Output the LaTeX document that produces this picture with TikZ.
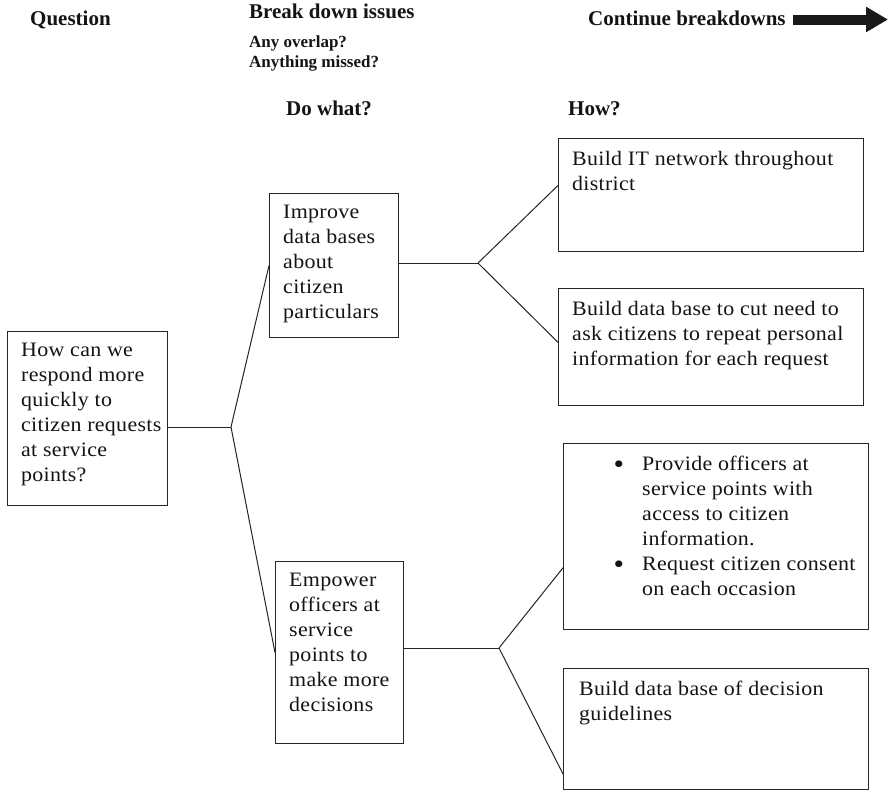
\documentclass[tikz,border=0pt]{standalone}
\usepackage{fontspec}
\setmainfont{Liberation Serif}
\newfontfamily\bodyfont{Liberation Serif}[FakeStretch=1.07,LetterSpace=1.5]
\usetikzlibrary{arrows.meta,calc}
\newcommand{\bigbullet}{\llap{\raisebox{-2.5pt}{\fontsize{28}{25}\selectfont\textbullet}\hspace{18pt}}}

\begin{document}
\begin{tikzpicture}[x=1pt,y=-1pt,
  box/.style={draw=black!85,line width=1.1pt,rectangle,inner sep=0pt,anchor=north west},
  body/.style={inner sep=0pt,anchor=north west,align=left,text=black!92,
    font=\bodyfont\fontsize{20.5}{25}\selectfont},
  head/.style={inner sep=0pt,anchor=base west,text=black!92,
    font=\bfseries\fontsize{21}{25}\selectfont},
  subhead/.style={inner sep=0pt,anchor=base west,text=black!92,
    font=\bfseries\fontsize{17}{20}\selectfont},
  link/.style={draw=black!85,line width=1pt}]

\fill[white] (0,0) rectangle (888,801);
\useasboundingbox (0,0) rectangle (888,801);

% column headings
\node[head] (hq) at (30,25) {Question};
\node[head] (hb) at (249,18) {Break down issues};
\node[subhead] (ho) at (249,47) {Any overlap?};
\node[subhead] (hm) at (249,67) {Anything missed?};
\node[head] (hc) at (588,25) {Continue breakdowns};
\node[head] (hd) at (286,115) {Do what?};
\node[head] (hh) at (568,115) {How?};

% continuation arrow
\coordinate (arrS) at (793,19.5);
\coordinate (arrE) at (888,19.5);
\draw[line width=10pt,black!90,-{Triangle[length=22pt,width=24pt]}] (arrS) -- (arrE);

% boxes
\node[box,minimum width=160pt,minimum height=174pt] (q) at (7,331) {};
\node[box,minimum width=129pt,minimum height=144pt] (imp) at (269,193) {};
\node[box,minimum width=128pt,minimum height=182pt] (emp) at (275,561) {};
\node[box,minimum width=305pt,minimum height=113pt] (it) at (558,138) {};
\node[box,minimum width=305pt,minimum height=117pt] (db) at (558,288) {};
\node[box,minimum width=305pt,minimum height=186pt] (prov) at (563,443) {};
\node[box,minimum width=305pt,minimum height=121pt] (guide) at (563,668) {};

% box texts
\node[body] (qt) at (21,343) {How can we\\respond more\\quickly to\\citizen requests\\at service\\points?};
\node[body] (impt) at (283,205) {Improve\\data bases\\about\\citizen\\particulars};
\node[body] (empt) at (289,573) {Empower\\officers at\\service\\points to\\make more\\decisions};
\node[body] (itt) at (572,151) {Build IT network throughout\\district};
\node[body] (dbt) at (572,301) {Build data base to cut need to\\ask citizens to repeat personal\\information for each request};
\node[body] (provt) at (642,456) {\bigbullet Provide officers at\\service points with\\access to citizen\\information.\\\bigbullet Request citizen consent\\on each occasion};
\node[body] (guidet) at (579,681) {Build data base of decision\\guidelines};

% branching connectors
\coordinate (b1) at (231,427);
\coordinate (b2) at (478,263);
\coordinate (b3) at (499,648);

\draw[link] (q.east |- b1) -- (b1);
\draw[link] (b1) -- (imp.west);
\draw[link] (b1) -- (emp.west);

\draw[link] (imp.east |- b2) -- (b2);
\draw[link] (b2) -- ($(it.north west)!0.416!(it.south west)$);
\draw[link] (b2) -- ($(db.north west)!0.46!(db.south west)$);

\draw[link] (emp.east |- b3) -- (b3);
\draw[link] (b3) -- ($(prov.north west)!0.667!(prov.south west)$);
\draw[link] (b3) -- ($(guide.north west)!0.868!(guide.south west)$);
\end{tikzpicture}
\end{document}
